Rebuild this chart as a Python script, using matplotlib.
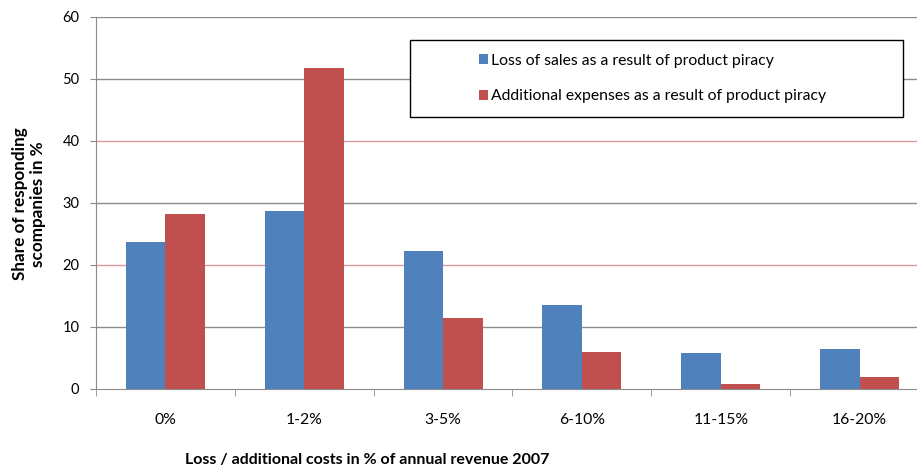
import numpy as np
import matplotlib.pyplot as plt
from matplotlib.patches import Rectangle

plt.rcParams['font.family'] = ['Lato', 'DejaVu Sans']

categories = ['0%', '1-2%', '3-5%', '6-10%', '11-15%', '16-20%']
loss_of_sales = [23.7, 28.7, 22.3, 13.5, 5.8, 6.4]
additional_expenses = [28.2, 51.8, 11.5, 6.0, 0.8, 2.0]
labels = ['Loss of sales as a result of product piracy',
          'Additional expenses as a result of product piracy']

blue = '#4F81BD'
red = '#C0504D'

fig = plt.figure(figsize=(9.17, 4.72), dpi=100)
W, H = 917, 472
# axis area: left 96px, right ~929px (runs past the image edge), y from 17 to 389
ax = fig.add_axes([96 / W, (H - 389) / H, 833 / W, 372 / H])

x = np.arange(len(categories))
width = 0.285

ax.bar(x - width / 2, loss_of_sales, width, color=blue, label=labels[0], zorder=3)
ax.bar(x + width / 2, additional_expenses, width, color=red, label=labels[1], zorder=3)

ax.set_xlim(-0.5, len(categories) - 0.5)
ax.set_ylim(0, 60)

# gridlines, two of them in a pinkish red like the original
for v in range(10, 61, 10):
    c = '#dc9a9a' if v in (20, 40) else '#8c8c8c'
    ax.axhline(v, color=c, lw=1.0, zorder=1)

for s in ['top', 'right']:
    ax.spines[s].set_visible(False)
for s in ['left', 'bottom']:
    ax.spines[s].set_color('#8c8c8c')

ax.set_yticks(range(0, 61, 10))
ax.tick_params(axis='y', length=4, color='#8c8c8c', labelsize=10.5, pad=8)
ax.set_xticks(x)
ax.set_xticklabels(categories, fontsize=11.3)
ax.set_xticks(np.arange(-0.5, len(categories), 1), minor=True)
ax.tick_params(axis='x', which='major', length=0, pad=17)
ax.tick_params(axis='x', which='minor', length=5, color='#8c8c8c')

fig.text(367 / W, 1 - 460 / H, 'Loss / additional costs in % of annual revenue 2007',
         fontsize=11.5, fontweight='bold', ha='center', va='center')
fig.text(29 / W, 1 - 204 / H, 'Share of responding\nscompanies in %',
         fontsize=12.3, fontweight='bold', rotation=90, ha='center', va='center',
         multialignment='center', linespacing=1.15)

# legend frame drawn by hand, entries placed inside
x0 = (410 - 96) / 833
x1 = (903 - 96) / 833
y0 = (389 - 117) / 372
y1 = (389 - 40) / 372
ax.add_patch(Rectangle((x0, y0), x1 - x0, y1 - y0, transform=ax.transAxes,
                       facecolor='white', edgecolor='black', lw=1.0, zorder=5))
leg = ax.legend(loc='center left', bbox_to_anchor=((465 - 96) / 833, (y0 + y1) / 2),
                frameon=False, fontsize=11.3, handlelength=0.55, handleheight=0.55,
                handletextpad=0.2, labelspacing=1.4)
leg.set_zorder(6)

fig.savefig('out.png', dpi=100)
